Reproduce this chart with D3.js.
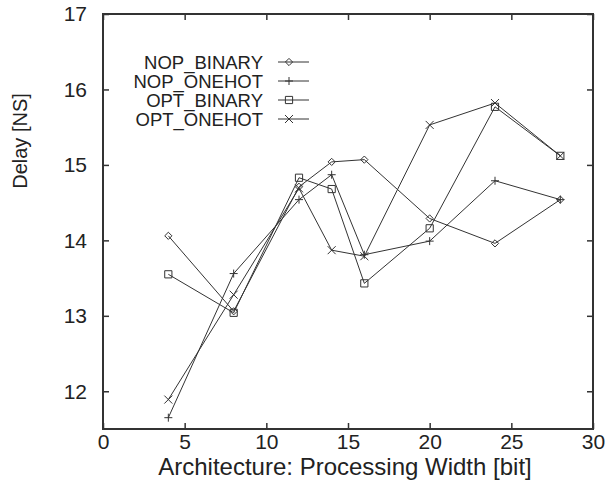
<!DOCTYPE html>
<html>
<head>
<meta charset="utf-8">
<script src="https://cdn.jsdelivr.net/npm/d3@7"></script>
<style>
  body { margin: 0; background: #fff; }
  text { font-family: "Liberation Sans", Arial, sans-serif; fill: #222; }
</style>
</head>
<body>
<svg id="chart" width="610" height="489"></svg>
<script>
// widths measured in bits, delays in ns
const widths = [4, 8, 12, 14, 16, 20, 24, 28];
const nopBinary = [14.06, 13.06, 14.71, 15.04, 15.07, 14.29, 13.96, 14.54];
const nopOnehot = [11.65, 13.56, 14.54, 14.87, 13.81, 13.99, 14.79, 14.54];
const optBinary = [13.55, 13.04, 14.83, 14.68, 13.43, 14.16, 15.77, 15.12];
const optOnehot = [11.89, 13.28, 14.69, 13.87, 13.79, 15.53, 15.82, 15.12];
const seriesNames = ["NOP_BINARY", "NOP_ONEHOT", "OPT_BINARY", "OPT_ONEHOT"];
const xTicks = [0, 5, 10, 15, 20, 25, 30];
const yTicks = [12, 13, 14, 15, 16, 17];

const series = [
  { name: seriesNames[0], values: nopBinary, marker: "diamond" },
  { name: seriesNames[1], values: nopOnehot, marker: "plus" },
  { name: seriesNames[2], values: optBinary, marker: "square" },
  { name: seriesNames[3], values: optOnehot, marker: "cross" }
];

const svg = d3.select("#chart");
const plotLeft = 103, plotRight = 593, plotTop = 14, plotBottom = 429;
const ink = "#333";

const x = d3.scaleLinear().domain([0, 30]).range([plotLeft, plotRight]);
const y = d3.scaleLinear().domain([11.5, 17]).range([plotBottom, plotTop]);

// axes: ticks point inward, mirrored on top/right like gnuplot
const tickLen = 6;
function styleAxis(g, showLabels) {
  g.select(".domain").remove();
  g.selectAll(".tick line").attr("stroke", ink).attr("stroke-width", 1.5);
  if (!showLabels) g.selectAll(".tick text").remove();
}

svg.append("g").attr("transform", `translate(0,${plotBottom})`)
  .call(d3.axisBottom(x).tickValues(xTicks).tickFormat(d3.format("d")).tickSize(-tickLen).tickPadding(5))
  .call(g => styleAxis(g, true))
  .call(g => g.selectAll(".tick text").style("font-size", "21px").attr("fill", "#222"));

svg.append("g").attr("transform", `translate(0,${plotTop})`)
  .call(d3.axisTop(x).tickValues(xTicks).tickSize(-tickLen))
  .call(g => styleAxis(g, false));

svg.append("g").attr("transform", `translate(${plotLeft},0)`)
  .call(d3.axisLeft(y).tickValues(yTicks).tickFormat(d3.format("d")).tickSize(-tickLen).tickPadding(16))
  .call(g => styleAxis(g, true))
  .call(g => g.selectAll(".tick text").style("font-size", "21px").attr("fill", "#222"));

svg.append("g").attr("transform", `translate(${plotRight},0)`)
  .call(d3.axisRight(y).tickValues(yTicks).tickSize(-tickLen))
  .call(g => styleAxis(g, false));

// frame
svg.append("rect")
  .attr("x", plotLeft).attr("y", plotTop)
  .attr("width", plotRight - plotLeft).attr("height", plotBottom - plotTop)
  .attr("fill", "none").attr("stroke", ink).attr("stroke-width", 2);

// axis titles
svg.append("text")
  .attr("x", (plotLeft + plotRight) / 2 - 3).attr("y", 475)
  .attr("text-anchor", "middle")
  .style("font-size", "24px")
  .text("Architecture: Processing Width [bit]");

svg.append("text")
  .attr("transform", "translate(27,141) rotate(-90)")
  .attr("text-anchor", "middle")
  .style("font-size", "20px")
  .text("Delay [NS]");

// marker shapes
function drawMarker(g, type, cx, cy) {
  const s = 3.6;
  let d;
  if (type === "diamond") d = `M${cx},${cy - s}L${cx + s},${cy}L${cx},${cy + s}L${cx - s},${cy}Z`;
  else if (type === "square") d = `M${cx - s},${cy - s}h${2 * s}v${2 * s}h${-2 * s}Z`;
  else if (type === "plus") d = `M${cx - 4},${cy}h8M${cx},${cy - 4}v8`;
  else d = `M${cx - 4},${cy - 4}l8,8M${cx - 4},${cy + 4}l8,-8`;
  g.append("path").attr("d", d)
    .attr("fill", "none").attr("stroke", ink).attr("stroke-width", 1);
}

const line = d3.line()
  .x(d => x(d[0]))
  .y(d => y(d[1]));

series.forEach(s => {
  const pts = widths.map((w, i) => [w, s.values[i]]);
  svg.append("path")
    .datum(pts)
    .attr("d", line)
    .attr("fill", "none")
    .attr("stroke", ink)
    .attr("stroke-width", 1);
  const mg = svg.append("g");
  pts.forEach(p => drawMarker(mg, s.marker, x(p[0]), y(p[1])));
});

// legend
const legend = svg.append("g");
series.forEach((s, i) => {
  const ly = 62 + i * 19;
  legend.append("text")
    .attr("x", 263).attr("y", ly + 6.5)
    .attr("text-anchor", "end")
    .style("font-size", "18.5px")
    .text(s.name);
  legend.append("line")
    .attr("x1", 278).attr("x2", 309)
    .attr("y1", ly).attr("y2", ly)
    .attr("stroke", ink).attr("stroke-width", 1);
  drawMarker(legend, s.marker, 289, ly);
});
</script>
</body>
</html>
